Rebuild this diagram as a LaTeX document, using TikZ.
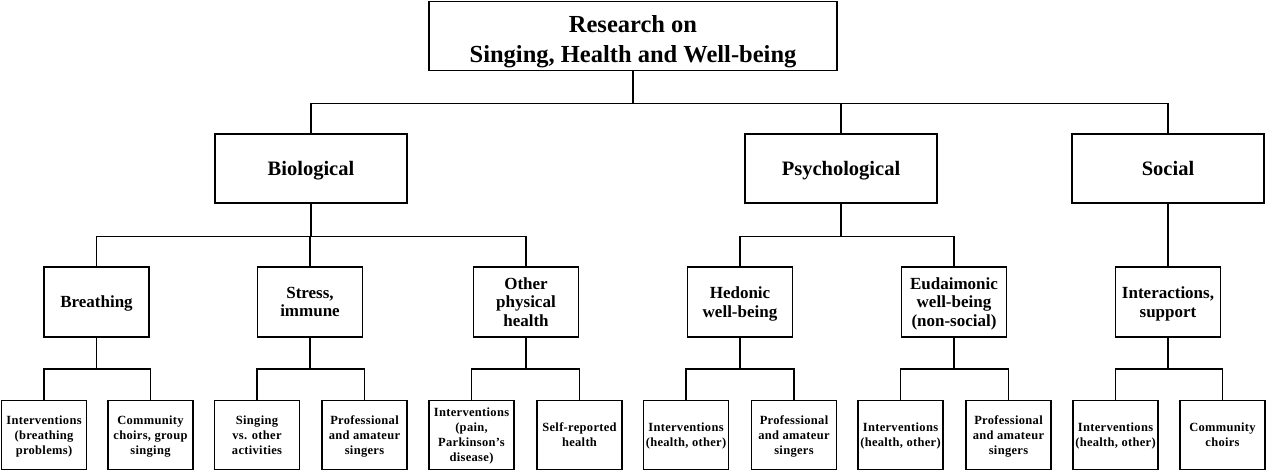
\documentclass[tikz,border=0pt]{standalone}
\usepackage{fontspec}
\setmainfont{Liberation Serif}
\begin{document}
\begin{tikzpicture}[x=1pt,y=-1pt,
  box/.style={draw=black,line width=1.9pt,fill=white,inner sep=0pt,align=center,text depth=0pt},
  topbox/.style={box,minimum width=408pt,minimum height=69pt,text height=53pt,font=\bfseries\fontsize{24.5}{30}\selectfont},
  lvlone/.style={box,minimum width=192pt,minimum height=69pt,font=\bfseries\fontsize{20.5}{24}\selectfont},
  lvltwo/.style={box,minimum width=105pt,minimum height=70pt,font=\bfseries\fontsize{17}{18.5}\selectfont},
  leaf/.style={box,minimum width=85pt,minimum height=69pt,font=\bfseries\fontsize{12.5}{15}\selectfont\addfontfeature{LetterSpace=2.5}},
  link/.style={draw=black,line width=1.8pt}
]
\useasboundingbox (0,0) rectangle (1266,471);
% top
\node[topbox] (top) at (633,36) {Research on\\Singing, Health and Well-being};
% level 1
\node[lvlone] (bio) at (311,168.5) {Biological};
\node[lvlone] (psy) at (841,168.5) {Psychological};
\node[lvlone] (soc) at (1168,168.5) {Social};
% level 2
\node[lvltwo] (bre) at (96.5,302) {Breathing};
\node[lvltwo] (str) at (310,302) {Stress,\\immune};
\node[lvltwo] (oth) at (526,302) {Other\\physical\\health};
\node[lvltwo] (hed) at (740,302) {Hedonic\\well-being};
\node[lvltwo] (eud) at (954,302) {Eudaimonic\\well-being\\(non-social)};
\node[lvltwo] (int) at (1168,302) {Interactions,\\support};
% leaves
\node[leaf] (l1) at (44,435) {Interventions\\(breathing\\problems)};
\node[leaf] (l2) at (150.5,435) {Community\\choirs, group\\singing};
\node[leaf] (l3) at (257,435) {Singing\\vs. other\\activities};
\node[leaf] (l4) at (364.5,435) {Professional\\and amateur\\singers};
\node[leaf] (l5) at (471.5,435) {Interventions\\(pain,\\Parkinson’s\\disease)};
\node[leaf] (l6) at (579.5,435) {Self-reported\\health};
\node[leaf] (l7) at (686,435) {Interventions\\(health, other)};
\node[leaf] (l8) at (794,435) {Professional\\and amateur\\singers};
\node[leaf] (l9) at (900.5,435) {Interventions\\(health, other)};
\node[leaf] (l10) at (1008.5,435) {Professional\\and amateur\\singers};
\node[leaf] (l11) at (1115.5,435) {Interventions\\(health, other)};
\node[leaf] (l12) at (1222.5,435) {Community\\choirs};
% connectors
\foreach \c in {bio,psy,soc} \draw[link] (top.south) -- ++(0,32) -| (\c.north);
\foreach \c in {bre,str,oth} \draw[link] (bio.south) -- ++(0,32.5) -| (\c.north);
\foreach \c in {hed,eud} \draw[link] (psy.south) -- ++(0,32.5) -| (\c.north);
\draw[link] (soc.south) -- (int.north);
\foreach \p/\a/\b in {bre/l1/l2,str/l3/l4,oth/l5/l6,hed/l7/l8,eud/l9/l10,int/l11/l12}{
  \draw[link] (\p.south) -- ++(0,31) -| (\a.north);
  \draw[link] (\p.south) -- ++(0,31) -| (\b.north);
}
\end{tikzpicture}
\end{document}
